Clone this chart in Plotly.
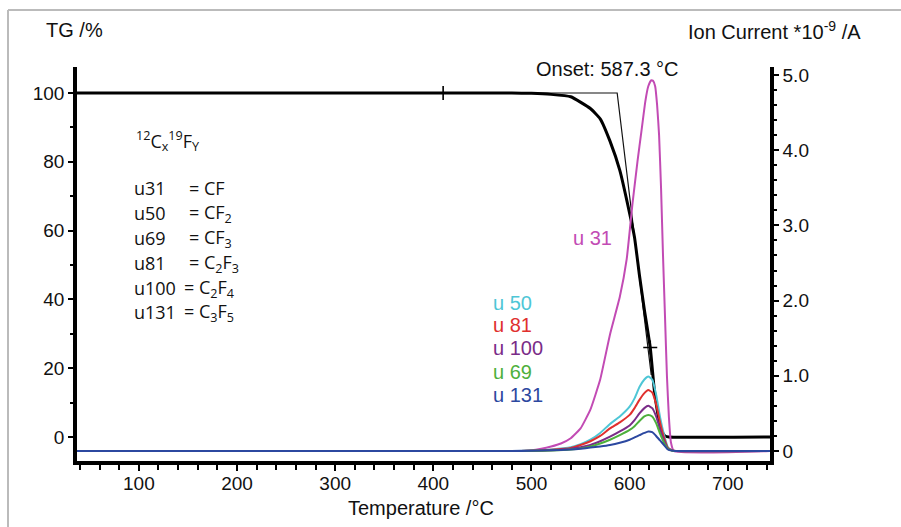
import plotly.graph_objects as go

# ---------------- data ----------------
tg_temp = [37, 400, 480, 500, 520, 540, 560, 570, 580, 590, 600, 605, 610, 615, 621, 625, 628, 632, 636, 640, 743]
tg_val = [100, 100, 100, 99.9, 99.6, 98.9, 95.5, 92.5, 86, 77.5, 65, 58, 47, 37, 26, 14, 8, 2, 0.3, 0, 0]

onset_temp = [400, 587.3, 622]
onset_val = [100, 100, 18]

marker_temp = [410, 621]
marker_val = [100, 26]

u31_temp = [37, 480, 500, 510, 520, 530, 540, 550, 560, 570, 580, 590, 597, 603, 608, 612, 616, 619, 622, 624,
            626, 628, 630, 632, 634, 636, 638, 640, 642, 645, 743]
u31_val = [0, 0, 0.01, 0.03, 0.06, 0.1, 0.17, 0.3, 0.55, 0.95, 1.55, 2.05, 2.55, 3.3, 3.85, 4.25, 4.65, 4.85, 4.93, 4.92,
           4.85, 4.6, 4.2, 3.5, 2.6, 1.8, 1.0, 0.45, 0.12, 0, 0]

ms_temp = [37, 480, 500, 520, 540, 550, 560, 570, 580, 590, 600, 605, 610, 615, 619, 623, 627, 631, 635, 639, 643, 647, 743]
u50_val = [0, 0, 0.005, 0.02, 0.05, 0.09, 0.15, 0.24, 0.36, 0.46, 0.59, 0.7, 0.85, 0.95, 0.99, 0.95, 0.75, 0.45, 0.22, 0.05, 0.01, 0, 0]
u81_val = [0, 0, 0.004, 0.015, 0.04, 0.08, 0.13, 0.2, 0.3, 0.38, 0.48, 0.57, 0.68, 0.77, 0.81, 0.78, 0.62, 0.38, 0.18, 0.04, 0.01, 0, 0]
u100_val = [0, 0, 0.003, 0.01, 0.03, 0.05, 0.08, 0.13, 0.19, 0.26, 0.34, 0.41, 0.5, 0.57, 0.6, 0.57, 0.46, 0.29, 0.14, 0.03, 0.01, 0, 0]
u69_val = [0, 0, 0.002, 0.008, 0.02, 0.035, 0.06, 0.1, 0.15, 0.21, 0.28, 0.33, 0.4, 0.46, 0.48, 0.46, 0.37, 0.23, 0.11, 0.03, 0.005, 0, 0]
u131_val = [0, 0, 0.004, 0.01, 0.02, 0.03, 0.045, 0.06, 0.08, 0.11, 0.15, 0.18, 0.21, 0.24, 0.26, 0.25, 0.2, 0.14, 0.08, 0.02, 0.005, 0, 0]

x_ticks = [100, 200, 300, 400, 500, 600, 700]
tg_ticks = [0, 20, 40, 60, 80, 100]
ion_ticks = [0, 1, 2, 3, 4, 5]
ion_ticktext = ["0", "1.0", "2.0", "3.0", "4.0", "5.0"]

legend_masses = ["u31", "u50", "u69", "u81", "u100", "u131"]
legend_formulas = ["= CF", "= CF<sub>2</sub>", "= CF<sub>3</sub>", "= C<sub>2</sub>F<sub>3</sub>",
                   "= C<sub>2</sub>F<sub>4</sub>", "= C<sub>3</sub>F<sub>5</sub>"]

C_MAG = "#C24BB4"
C_CYAN = "#4EC6D6"
C_RED = "#E0302E"
C_PURP = "#7A2C88"
C_GREEN = "#4DB03C"
C_BLUE = "#2C48A0"

W, H = 901, 527
ML, MR, MT, MB = 77, 131, 67, 66
PW, PH = W - ML - MR, H - MT - MB


def px(x):
    return (x - ML) / PW


def py(y):
    return (H - MB - y) / PH


fig = go.Figure()

ion_series = [
    (u31_temp, u31_val, C_MAG),
    (ms_temp, u50_val, C_CYAN),
    (ms_temp, u81_val, C_RED),
    (ms_temp, u100_val, C_PURP),
    (ms_temp, u69_val, C_GREEN),
    (ms_temp, u131_val, C_BLUE),
]
for t, v, c in ion_series:
    fig.add_trace(go.Scatter(x=t, y=v, yaxis="y2", mode="lines",
                             line=dict(color=c, width=2, shape="spline", smoothing=0.4),
                             showlegend=False, hoverinfo="skip"))

fig.add_trace(go.Scatter(x=onset_temp, y=onset_val, mode="lines",
                         line=dict(color="#111111", width=1.2), showlegend=False))
fig.add_trace(go.Scatter(x=tg_temp, y=tg_val, mode="lines",
                         line=dict(color="#000000", width=3, shape="spline", smoothing=0.4),
                         showlegend=False))
fig.add_trace(go.Scatter(x=marker_temp, y=marker_val, mode="markers",
                         marker=dict(symbol="cross-thin", size=10, line=dict(color="#000", width=1.6)),
                         showlegend=False))

font_ax = "Liberation Sans, Arial, sans-serif"
font_leg = "Open Sans, Noto Sans, sans-serif"

fig.update_layout(
    width=W, height=H,
    margin=dict(l=ML, r=MR, t=MT, b=MB),
    paper_bgcolor="white", plot_bgcolor="white",
    font=dict(family=font_ax, size=20, color="#111"),
    xaxis=dict(range=[37, 743], tickvals=x_ticks, showgrid=False, zeroline=False,
               showline=True, linecolor="black", linewidth=3.5, ticks="outside",
               ticklen=6, tickwidth=2, tickcolor="black", ticklabelstandoff=-4,
               minor=dict(dtick=20, tick0=0, ticks="outside", ticklen=5, tickwidth=2, tickcolor="black"),
               tickfont=dict(size=19)),
    yaxis=dict(range=[-7, 107.56], tickvals=tg_ticks, showgrid=False, zeroline=False,
               showline=True, linecolor="black", linewidth=3.5, ticks="outside",
               ticklen=5, tickwidth=1.5, tickcolor="black",
               minor=dict(dtick=10, tick0=0, ticks="outside", ticklen=3, tickwidth=1.5, tickcolor="black"),
               tickfont=dict(size=19)),
    yaxis2=dict(range=[-0.133, 5.106], overlaying="y", side="right", anchor="x",
                tickvals=ion_ticks, ticktext=ion_ticktext, showgrid=False, zeroline=False,
                showline=True, linecolor="black", linewidth=3.5, ticks="outside",
                ticklen=5, tickwidth=1.5, tickcolor="black",
                minor=dict(dtick=0.2, tick0=0, ticks="outside", ticklen=3, tickwidth=1.5, tickcolor="black"),
                tickfont=dict(size=19)),
)

ann = [("TG /%", 74, 30, "center"), ("Ion Current *10<sup>-9</sup> /A", 774, 30, "center"),
       ("Temperature /°C", 421, 508, "center"), ("Onset: 587.3 °C", 607, 69, "center")]
for t, xx, yy, xa in ann:
    fig.add_annotation(text=t, x=px(xx), y=py(yy), xref="paper", yref="paper",
                       xanchor=xa, yanchor="middle", showarrow=False,
                       font=dict(family=font_ax, size=20, color="#111"))

fig.add_annotation(text="<sup>12</sup>C<sub>x</sub><sup>19</sup>F<sub>Y</sub>", x=px(134), y=py(141),
                   xref="paper", yref="paper", xanchor="left", yanchor="middle", showarrow=False,
                   font=dict(family=font_leg, size=18, color="#111"))
row_y = [188, 213, 238, 263, 288, 312]
eq_x = [187, 187, 187, 187, 182, 182]
for m, f, yy, ex in zip(legend_masses, legend_formulas, row_y, eq_x):
    fig.add_annotation(text=m, x=px(132), y=py(yy), xref="paper", yref="paper",
                       xanchor="left", yanchor="middle", showarrow=False,
                       font=dict(family=font_leg, size=18, color="#111"))
    fig.add_annotation(text=f, x=px(ex), y=py(yy), xref="paper", yref="paper",
                       xanchor="left", yanchor="middle", showarrow=False,
                       font=dict(family=font_leg, size=18, color="#111"))

curve_labels = [("u 31", C_MAG, 571, 238), ("u 50", C_CYAN, 491, 303), ("u 81", C_RED, 491, 325),
                ("u 100", C_PURP, 491, 348), ("u 69", C_GREEN, 491, 372), ("u 131", C_BLUE, 491, 395)]
for t, c, xx, yy in curve_labels:
    fig.add_annotation(text=t, x=px(xx), y=py(yy), xref="paper", yref="paper",
                       xanchor="left", yanchor="middle", showarrow=False,
                       font=dict(family=font_ax, size=20, color=c))

# outer frame lines of the picture
fig.add_shape(type="line", xref="paper", yref="paper", x0=px(8), x1=px(901), y0=py(10), y1=py(10),
              line=dict(color="#BBBBBB", width=2))
fig.add_shape(type="line", xref="paper", yref="paper", x0=px(8), x1=px(8), y0=py(527), y1=py(10),
              line=dict(color="#BBBBBB", width=2))

fig.write_html("out.html")
